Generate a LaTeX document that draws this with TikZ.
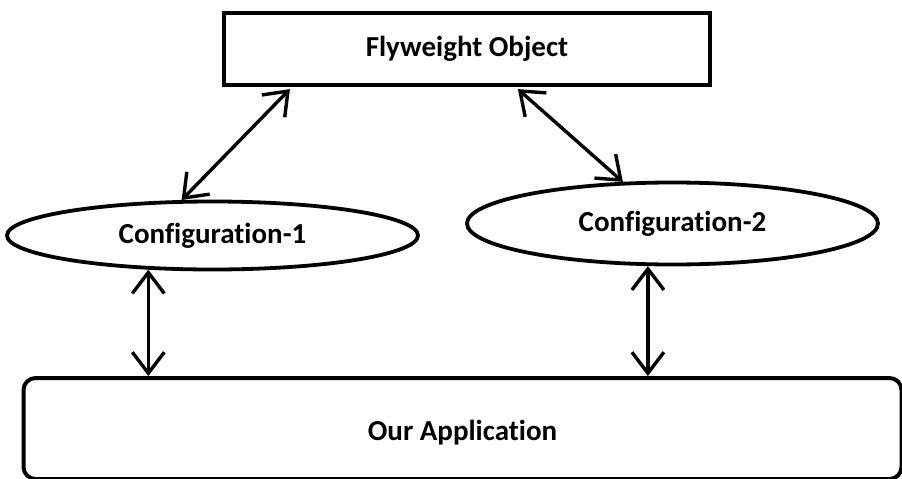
\documentclass[tikz,border=0pt]{standalone}
\usepackage{fontspec}
\setmainfont{Carlito}[Ligatures=NoCommon]
\usetikzlibrary{arrows.meta,shapes.geometric,calc}
\begin{document}
\begin{tikzpicture}[x=1pt,y=-1pt,
  lbl/.style={font=\fontsize{29}{34}\selectfont\bfseries},
  boxnode/.style={draw, line width=4.2pt, inner sep=0pt, lbl},
  ellnode/.style={draw, ellipse, line width=3.8pt, inner sep=0pt, minimum width=411pt, lbl},
  appnode/.style={draw, line width=4pt, rounded corners=12pt, inner sep=0pt, lbl},
  conn/.style={line width=3.4pt, {Straight Barb[length=21pt,width=32pt,line width=3.4pt]}-{Straight Barb[length=21pt,width=32pt,line width=3.4pt]}}
]
\useasboundingbox (0,0) rectangle (902,479);
\fill[white] (0,0) rectangle (902,479);
\node[boxnode, minimum width=486pt, minimum height=72pt] (fw) at (467,49) {Flyweight Object};
\node[ellnode, minimum height=68pt] (c1) at (212.5,235.5) {Configuration-1};
\node[ellnode, minimum height=82pt] (c2) at (672.5,223.5) {Configuration-2};
\node[appnode, minimum width=878pt, minimum height=101pt, text height=30pt, text depth=6pt] (app) at (462.5,428.5) {Our Application};
\draw[conn] ($(fw.south west)+(68,2)$) -- (c1.131);
\draw[conn] ($(fw.south west)+(296,2)$) -- (c2.140);
\draw[conn] (c1.208) -- (c1.208 |- app.north);
\draw[conn] (c2.240) -- (c2.240 |- app.north);
\end{tikzpicture}
\end{document}
